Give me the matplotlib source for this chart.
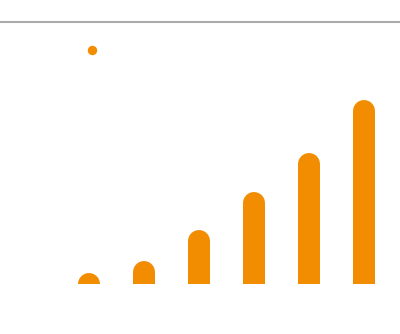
import numpy as np
import matplotlib
matplotlib.use('Agg')
from matplotlib import pyplot as plt

# bar series (percent of the reference line) and the single marker point
bar_values = [3.6, 8.6, 20.5, 35.0, 49.8, 70.2]
dot_x = 0.06
dot_value = 89.4

orange = '#f28c00'
grey = '#aaaaaa'
dpi = 100

fig = plt.figure(figsize=(4.0, 3.34), dpi=dpi)
ax = fig.add_axes([0.0, 0.1506, 1.0, 0.7835])
ax.set_xlim(-89/55, (400-89)/55)
ax.set_ylim(0, 100)

for s in ['left', 'right', 'bottom']:
    ax.spines[s].set_visible(False)
ax.spines['top'].set_color(grey)
ax.spines['top'].set_linewidth(1.5)
ax.set_xticks([])
ax.set_yticks([])

# bars as thick lines with round caps, cap radius converted to data units
lw = 22 * 72 / dpi
ax_h_px = fig.get_figheight() * dpi * ax.get_position().height
r_data = (lw * dpi / 72 / 2) / ax_h_px * 100
xs = np.arange(len(bar_values))
for x, v in zip(xs, bar_values):
    ax.plot([x, x], [0, v - r_data], color=orange, linewidth=lw,
            solid_capstyle='round', clip_on=True)

ax.scatter([dot_x], [dot_value], s=46, color=orange, linewidths=0, clip_on=False)

fig.savefig('out.png', dpi=dpi)
